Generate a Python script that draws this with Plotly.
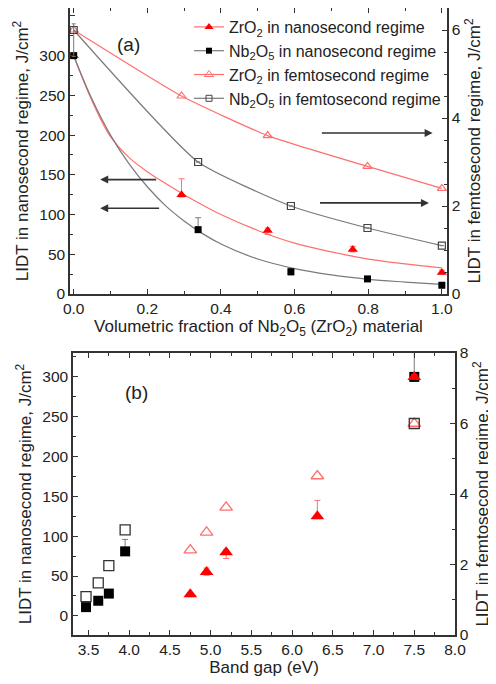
import plotly.graph_objects as go
from plotly.subplots import make_subplots

# ---------------- Panel (a) data ----------------
frac_zr_ns = [0.0, 0.293, 0.527, 0.758, 1.0]
zr_ns = [300, 125, 80, 56, 27]
zr_ns_err_p = [0, 20, 3, 4, 3]
zr_ns_err_m = [0, 3, 5, 3, 2]

frac_nb_ns = [0.0, 0.338, 0.59, 0.798, 1.0]
nb_ns = [300, 81, 28, 19, 11]
nb_ns_err_p = [0, 15, 4, 2, 2]
nb_ns_err_m = [0, 2, 4, 2, 2]

frac_zr_fs = [0.0, 0.293, 0.527, 0.798, 1.0]
zr_fs = [6.0, 4.5, 3.6, 2.9, 2.4]

frac_nb_fs = [0.0, 0.338, 0.59, 0.798, 1.0]
nb_fs = [6.0, 3.0, 2.0, 1.5, 1.1]
nb_fs_err_p = [0.14, 0, 0, 0, 0]
nb_fs_err_m = [0.6, 0, 0, 0, 0]

# fitted curves
fit_x = [0.0, 0.05, 0.1, 0.15, 0.2, 0.25, 0.3, 0.35, 0.4, 0.5, 0.6, 0.7, 0.8, 0.9, 1.0]
fit_zr_ns = [300, 243, 198, 172, 154, 139, 125, 112, 100, 80, 64, 53, 44, 38, 33]
fit_nb_ns = [300, 245, 200, 164, 135, 111, 92, 76, 63, 44, 32, 24, 18.5, 15, 12]

# ---------------- Panel (b) data ----------------
gap_nb = [3.47, 3.62, 3.75, 3.95, 7.5]
gap_zr = [4.75, 4.95, 5.19, 6.31, 7.5]
b_nb_ns = [11, 19, 28, 81, 300]
b_nb_ns_err_p = [0, 2, 4, 15, 40]
b_nb_ns_err_m = [2, 2, 4, 2, 3]
b_zr_ns = [27, 55, 80, 125, 300]
b_zr_ns_err_p = [2, 5, 3, 20, 3]
b_zr_ns_err_m = [3, 4, 8, 3, 3]
b_nb_fs = [1.09, 1.48, 1.97, 2.98, 6.0]
b_zr_fs = [2.41, 2.91, 3.62, 4.51, 6.0]

legend_names = [
    "ZrO<sub>2</sub> in nanosecond regime",
    "Nb<sub>2</sub>O<sub>5</sub> in nanosecond regime",
    "ZrO<sub>2</sub> in femtosecond regime",
    "Nb<sub>2</sub>O<sub>5</sub> in femtosecond regime",
]

RED = "#ff0000"
LRED = "#ff6f6f"
GRAY = "#7a7a7a"
DARK = "#222222"
FONT = "Liberation Sans, Arial, sans-serif"

# the page body has an 8 px default margin, so the figure is drawn 8 px in from the window edge
OFF = 8
W, H = 496 - OFF, 684 - OFF


def px(xp):
    return (xp - OFF) / W


def py(yp):
    return 1 - (yp - OFF) / H


fig = make_subplots(rows=2, cols=1, specs=[[{"secondary_y": True}], [{"secondary_y": True}]])

# ----- panel (a) -----
fig.add_trace(go.Scatter(x=fit_x, y=fit_zr_ns, mode="lines", line=dict(color=LRED, width=1.2, shape="spline"),
                         showlegend=False, hoverinfo="skip"), row=1, col=1, secondary_y=False)
fig.add_trace(go.Scatter(x=fit_x, y=fit_nb_ns, mode="lines", line=dict(color=GRAY, width=1.2, shape="spline"),
                         showlegend=False, hoverinfo="skip"), row=1, col=1, secondary_y=False)
fig.add_trace(go.Scatter(x=frac_zr_fs, y=zr_fs, mode="lines+markers",
                         line=dict(color=LRED, width=1.2, shape="spline", smoothing=0.5),
                         marker=dict(symbol="triangle-up-open", size=8, color=LRED, line=dict(width=1.2)),
                         showlegend=False), row=1, col=1, secondary_y=True)
fig.add_trace(go.Scatter(x=frac_nb_fs, y=nb_fs, mode="lines+markers",
                         line=dict(color=GRAY, width=1.2, shape="spline", smoothing=0.5),
                         marker=dict(symbol="square-open", size=7, color="#444444", line=dict(width=1.2)),
                         error_y=dict(type="data", array=nb_fs_err_p, arrayminus=nb_fs_err_m, color=GRAY,
                                      thickness=1, width=2),
                         showlegend=False), row=1, col=1, secondary_y=True)
fig.add_trace(go.Scatter(x=frac_zr_ns, y=zr_ns, mode="markers",
                         marker=dict(symbol="triangle-up", size=9, color=RED),
                         error_y=dict(type="data", array=zr_ns_err_p, arrayminus=zr_ns_err_m, color=LRED,
                                      thickness=1, width=3),
                         showlegend=False), row=1, col=1, secondary_y=False)
fig.add_trace(go.Scatter(x=frac_nb_ns, y=nb_ns, mode="markers",
                         marker=dict(symbol="square", size=7, color="#000000"),
                         error_y=dict(type="data", array=nb_ns_err_p, arrayminus=nb_ns_err_m, color=GRAY,
                                      thickness=1, width=3),
                         showlegend=False), row=1, col=1, secondary_y=False)

# legend entries
leg_styles = [
    dict(line=dict(color=LRED, width=1.2), marker=dict(symbol="triangle-up", size=8, color=RED)),
    dict(line=dict(color=GRAY, width=1.2), marker=dict(symbol="square", size=6, color="#000000")),
    dict(line=dict(color=LRED, width=1.2), marker=dict(symbol="triangle-up-open", size=8, color=LRED)),
    dict(line=dict(color=GRAY, width=1.2), marker=dict(symbol="square-open", size=6, color="#444444")),
]
for i, (nm, st) in enumerate(zip(legend_names, leg_styles)):
    fig.add_trace(go.Scatter(x=[None], y=[None], mode="lines+markers", name=nm, legendrank=i + 1,
                             **st), row=1, col=1, secondary_y=False)

# ----- panel (b) -----
fig.add_trace(go.Scatter(x=gap_zr, y=b_zr_fs, mode="markers",
                         marker=dict(symbol="triangle-up-open", size=11, color=LRED, line=dict(width=1.3)),
                         showlegend=False), row=2, col=1, secondary_y=True)
fig.add_trace(go.Scatter(x=gap_nb, y=b_nb_fs, mode="markers",
                         marker=dict(symbol="square-open", size=10, color="#333333", line=dict(width=1.3)),
                         showlegend=False), row=2, col=1, secondary_y=True)
fig.add_trace(go.Scatter(x=gap_nb, y=b_nb_ns, mode="markers",
                         marker=dict(symbol="square", size=10, color="#000000"),
                         error_y=dict(type="data", array=b_nb_ns_err_p, arrayminus=b_nb_ns_err_m, color=GRAY,
                                      thickness=1, width=3),
                         showlegend=False), row=2, col=1, secondary_y=False)
fig.add_trace(go.Scatter(x=gap_zr, y=b_zr_ns, mode="markers",
                         marker=dict(symbol="triangle-up", size=12, color=RED),
                         error_y=dict(type="data", array=b_zr_ns_err_p, arrayminus=b_zr_ns_err_m, color=LRED,
                                      thickness=1, width=3),
                         showlegend=False), row=2, col=1, secondary_y=False)

axis_common = dict(showline=True, linecolor="#333333", linewidth=1.5, ticks="inside", ticklen=5,
                   tickcolor="#333333", tickwidth=1.2, showgrid=False, zeroline=False, automargin=False,
                   tickfont=dict(family=FONT, size=15.5, color=DARK),
                   title_font=dict(family=FONT, size=17, color=DARK))

fig.update_layout(
    width=W, height=H, margin=dict(l=0, r=0, t=0, b=0),
    plot_bgcolor="white", paper_bgcolor="white",
    font=dict(family=FONT, color=DARK),
    xaxis=dict(axis_common, domain=[px(70), px(447)], range=[-0.01, 1.014], dtick=0.2, tick0=0,
               tickformat=".1f", mirror="ticks",
               minor=dict(ticks="inside", ticklen=3, dtick=0.1, tickcolor="#333333"),
               title=dict(text="Volumetric fraction of Nb<sub>2</sub>O<sub>5</sub> (ZrO<sub>2</sub>) material",
                          standoff=3)),
    yaxis=dict(axis_common, domain=[py(294), py(8)], range=[0, 360], dtick=50, tick0=0,
               minor=dict(ticks="inside", ticklen=3, dtick=25, tickcolor="#333333"),
               title=dict(text="LIDT in nanosecond regime, J/cm<sup>2</sup>", standoff=6)),
    yaxis2=dict(axis_common, range=[0, 6.5], dtick=2, tick0=0,
                minor=dict(ticks="inside", ticklen=3, dtick=0.5, tickcolor="#333333"),
                title=dict(text="LIDT in femtosecond regime, J/cm<sup>2</sup>", standoff=8)),
    xaxis2=dict(axis_common, domain=[px(73), px(455)], range=[3.31, 8.0], dtick=0.5, tick0=3.5,
                tickformat=".1f", mirror="ticks",
                minor=dict(ticks="inside", ticklen=3, dtick=0.25, tickcolor="#333333"),
                title=dict(text="Band gap (eV)", standoff=3)),
    yaxis3=dict(axis_common, domain=[py(635), py(353)], range=[-24, 330], dtick=50, tick0=0,
                minor=dict(ticks="inside", ticklen=3, dtick=25, tickcolor="#333333"),
                title=dict(text="LIDT in nanosecond regime, J/cm<sup>2</sup>", standoff=6)),
    yaxis4=dict(axis_common, range=[0, 8], dtick=2, tick0=0,
                minor=dict(ticks="inside", ticklen=3, dtick=1, tickcolor="#333333"),
                title=dict(text="LIDT in femtosecond regime, J/cm<sup>2</sup>", standoff=8)),
    legend=dict(x=px(189), y=py(10), xanchor="left", yanchor="top", bgcolor="rgba(0,0,0,0)",
                font=dict(family=FONT, size=16, color=DARK), itemwidth=30, tracegroupgap=0),
)

# arrows and panel labels
arrow_style = dict(showarrow=True, arrowhead=2, arrowsize=1, arrowwidth=1.6, arrowcolor="#333333", text="")
fig.add_annotation(x=0.072, y=144, ax=0.228, ay=144, xref="x", yref="y", axref="x", ayref="y", **arrow_style)
fig.add_annotation(x=0.072, y=108, ax=0.236, ay=108, xref="x", yref="y", axref="x", ayref="y", **arrow_style)
fig.add_annotation(x=0.975, y=3.66, ax=0.67, ay=3.66, xref="x", yref="y2", axref="x", ayref="y2", **arrow_style)
fig.add_annotation(x=0.965, y=2.07, ax=0.665, ay=2.07, xref="x", yref="y2", axref="x", ayref="y2", **arrow_style)

fig.add_annotation(x=px(115), y=py(32), xref="paper", yref="paper", text="(a)", showarrow=False,
                   font=dict(family=FONT, size=19, color=DARK))
fig.add_annotation(x=px(123), y=py(392), xref="paper", yref="paper", text="(b)", showarrow=False,
                   font=dict(family=FONT, size=19, color=DARK))

fig.write_html("out.html")
